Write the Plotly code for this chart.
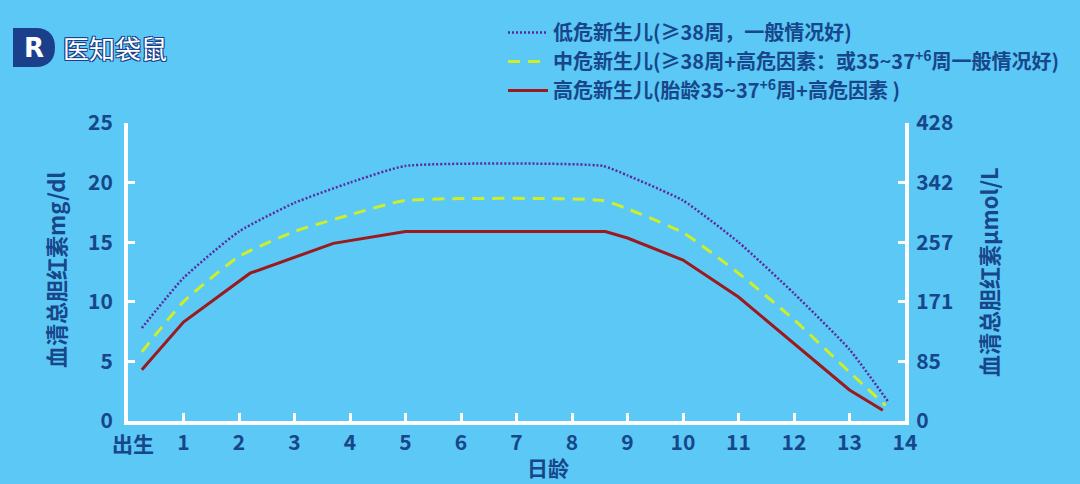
import plotly.graph_objects as go

# ---- data ----
days_low = [0.25, 1, 2, 3, 4, 5, 8.55, 9, 10, 11, 12, 13, 13.7]
tsb_low = [7.8, 12.0, 15.9, 18.3, 20.0, 21.4, 21.4, 20.6, 18.5, 15.0, 10.7, 6.0, 1.6]

days_mid = [0.25, 1, 2, 3, 4, 5, 8.55, 9, 10, 11, 12, 13, 13.65]
tsb_mid = [5.8, 10.0, 13.8, 15.9, 17.3, 18.5, 18.5, 17.8, 15.8, 12.4, 8.5, 4.1, 1.3]

days_high = [0.25, 1, 2.2, 3.7, 5, 8.6, 9, 10, 11, 12, 13, 13.6]
tsb_high = [4.3, 8.3, 12.4, 14.9, 15.9, 15.9, 15.35, 13.5, 10.4, 6.5, 2.6, 0.9]

birth_label = "出生"
x_tickvals = list(range(0, 15))
x_ticktext = [""] + [str(i) for i in range(1, 15)]
y_tickvals = [0, 5, 10, 15, 20, 25]
y2_ticktext = ["0", "85", "171", "257", "342", "428"]

names = [
    "低危新生儿(≥38周，一般情况好)",
    "中危新生儿(≥38周+高危因素：或35~37<sup>+6</sup>周一般情况好)",
    "高危新生儿(胎龄35~37<sup>+6</sup>周+高危因素 )",
]

NAVY = "#17468A"
BG = "#5BC8F5"
FONT = "Noto Sans CJK SC"

W, H = 1080, 484
L, R, T, B = 128, 905, 123, 421


def px(x):
    return (x - L) / (R - L)


def py(y):
    return (B - y) / (B - T)


fig = go.Figure()
fig.add_trace(go.Scatter(x=days_low, y=tsb_low, mode="lines", name=names[0],
                         line=dict(color="#5A2A9E", width=2.5, dash="2px,2px", shape="spline", smoothing=0.5)))
fig.add_trace(go.Scatter(x=days_mid, y=tsb_mid, mode="lines", name=names[1],
                         line=dict(color="#CDEE2A", width=3, dash="12px,8px", shape="spline", smoothing=0.5)))
fig.add_trace(go.Scatter(x=days_high, y=tsb_high, mode="lines", name=names[2],
                         line=dict(color="#9A1A1E", width=3)))
# invisible trace for the right axis
fig.add_trace(go.Scatter(x=[0], y=[0], yaxis="y2", mode="markers", marker=dict(opacity=0),
                         showlegend=False, hoverinfo="skip"))

tickfont = dict(family=FONT, size=21, color=NAVY, weight="bold")

fig.update_layout(
    width=W, height=H,
    paper_bgcolor=BG, plot_bgcolor=BG,
    margin=dict(l=L, r=W - R, t=T, b=H - B, pad=0),
    showlegend=True,
    legend=dict(x=px(503), y=py(13), xanchor="left", yanchor="top",
                bgcolor="rgba(0,0,0,0)", font=dict(family=FONT, size=20, color=NAVY, weight="bold"),
                tracegroupgap=0, itemwidth=40),
    xaxis=dict(range=[0, 14], tickvals=x_tickvals, ticktext=x_ticktext, tickfont=tickfont,
               showgrid=False, zeroline=False, showline=True, linecolor="white", linewidth=4,
               ticks="inside", ticklen=8, tickwidth=3, tickcolor="white", ticklabelstandoff=0,
               fixedrange=True),
    yaxis=dict(range=[0, 25], tickvals=y_tickvals, tickfont=tickfont,
               showgrid=False, zeroline=False, showline=True, linecolor="white", linewidth=4,
               ticks="inside", ticklen=7, tickwidth=3, tickcolor="white", ticklabelstandoff=7),
    yaxis2=dict(range=[0, 25], tickvals=y_tickvals, ticktext=y2_ticktext, tickfont=tickfont,
                overlaying="y", side="right", anchor="x",
                showgrid=False, zeroline=False, showline=True, linecolor="white", linewidth=4,
                ticks="inside", ticklen=7, tickwidth=3, tickcolor="white", ticklabelstandoff=3),
)

# "出生" label under day 0, nudged right so it clears the "0" of the y axis
fig.add_annotation(text=birth_label, x=px(133), y=py(443), xref="paper", yref="paper",
                   showarrow=False, font=tickfont, xanchor="center", yanchor="middle")

titlefont = dict(family=FONT, size=22, color=NAVY, weight="bold")
fig.add_annotation(text="血清总胆红素mg/dl", x=px(55), y=py(270), xref="paper", yref="paper",
                   textangle=-90, showarrow=False, font=titlefont, xanchor="center", yanchor="middle")
fig.add_annotation(text="血清总胆红素μmol/L", x=px(988), y=py(272), xref="paper", yref="paper",
                   textangle=-90, showarrow=False, font=titlefont, xanchor="center", yanchor="middle")
fig.add_annotation(text="日龄", x=px(548), y=py(467), xref="paper", yref="paper",
                   showarrow=False, font=dict(family=FONT, size=21, color=NAVY, weight="bold"),
                   xanchor="center", yanchor="middle")

# logo
d_path = "M {a},{b} L {c},{b} C {d},{b} {e},{f} {e},{g} C {e},{h} {d},{i} {c},{i} L {a},{i} Z".format(
    a=px(13), b=py(28), c=px(36), d=px(49), e=px(55), f=py(36), g=py(47.5), h=py(59), i=py(67))
fig.add_shape(type="path", path=d_path, xref="paper", yref="paper", fillcolor="#1B3F8B", line=dict(width=0))
fig.add_annotation(text="R", x=px(34), y=py(48), xref="paper", yref="paper", showarrow=False,
                   font=dict(family="DejaVu Sans", size=26, color="white", weight="bold"),
                   xanchor="center", yanchor="middle")
outline = "-1px -1px 0 #1B3F8B, 1px -1px 0 #1B3F8B, -1px 1px 0 #1B3F8B, 1px 1px 0 #1B3F8B"
fig.add_annotation(text="医知袋鼠", x=px(61), y=py(48), xref="paper", yref="paper", showarrow=False,
                   font=dict(family=FONT, size=26, color="white", shadow=outline),
                   xanchor="left", yanchor="middle")

fig.write_html("out.html", config={"displayModeBar": False},
               post_script="document.body.style.margin='0';document.body.style.overflow='hidden';")
